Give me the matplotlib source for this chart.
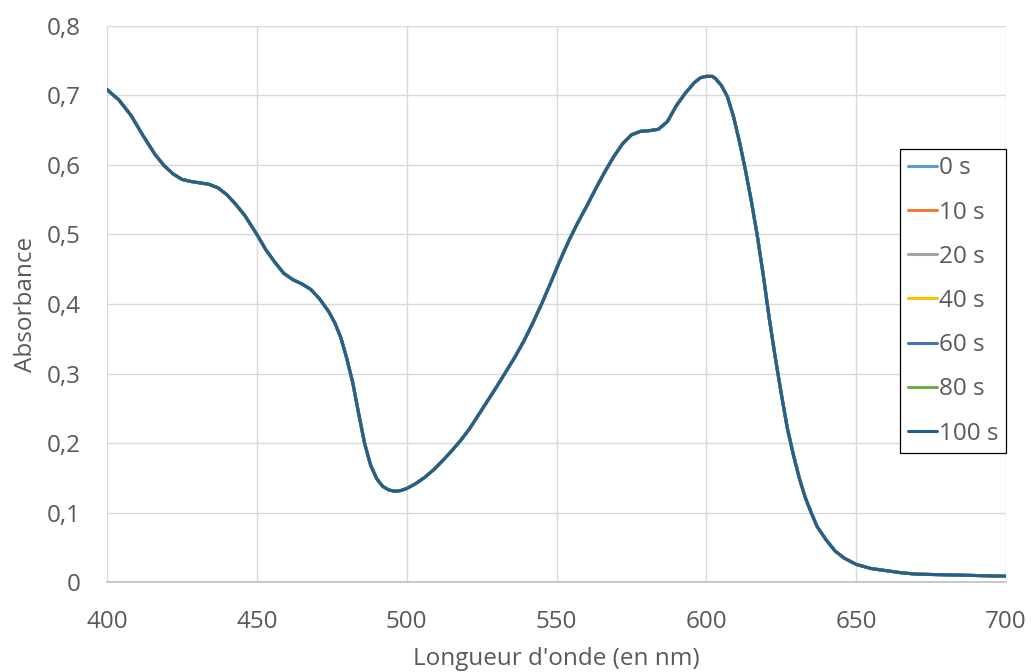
import matplotlib
matplotlib.use("Agg")
import matplotlib.pyplot as plt
from matplotlib.ticker import FuncFormatter, MultipleLocator

# Wavelengths (nm) and absorbance (all series overlap)
wavelength = [400, 404, 408, 412, 416, 419, 422, 425, 428, 431, 434, 437, 440, 443,
              446, 450, 453, 456, 459, 462, 465, 468, 471, 474, 476, 478, 480, 482,
              484, 486, 488, 490, 492, 494, 496, 498, 500, 503, 506, 509, 512, 515,
              518, 521, 524, 527, 530, 533, 536, 539, 542, 545, 548, 551, 554, 557,
              560, 563, 566, 569, 572, 575, 578, 581, 584, 587, 590, 593, 596, 598,
              600, 602, 603, 605, 607, 609, 611, 613, 615, 617, 619, 621, 623, 625,
              627, 629, 631, 633, 635, 637, 640, 643, 646, 650, 655, 660, 665, 670,
              680, 690, 700]

absorbance = [0.708, 0.693, 0.671, 0.642, 0.615, 0.599, 0.587, 0.579, 0.576, 0.574,
              0.572, 0.567, 0.557, 0.543, 0.527, 0.500, 0.478, 0.460, 0.444, 0.435,
              0.429, 0.421, 0.407, 0.389, 0.373, 0.352, 0.322, 0.287, 0.242, 0.199,
              0.168, 0.149, 0.138, 0.133, 0.131, 0.132, 0.135, 0.142, 0.151, 0.162,
              0.175, 0.189, 0.204, 0.221, 0.241, 0.261, 0.281, 0.302, 0.323, 0.346,
              0.372, 0.400, 0.430, 0.461, 0.490, 0.516, 0.540, 0.565, 0.589, 0.611,
              0.630, 0.643, 0.648, 0.649, 0.651, 0.662, 0.685, 0.703, 0.718, 0.725,
              0.727, 0.727, 0.724, 0.714, 0.698, 0.670, 0.634, 0.593, 0.548, 0.498,
              0.441, 0.379, 0.323, 0.271, 0.222, 0.184, 0.150, 0.122, 0.100, 0.080,
              0.061, 0.045, 0.035, 0.026, 0.020, 0.017, 0.014, 0.012, 0.011, 0.010,
              0.009]

series_labels = ["0 s", "10 s", "20 s", "40 s", "60 s", "80 s", "100 s"]
series_values = {
    "0 s": absorbance,
    "10 s": absorbance,
    "20 s": absorbance,
    "40 s": absorbance,
    "60 s": absorbance,
    "80 s": absorbance,
    "100 s": absorbance,
}
series_colors = ["#5B9BD5", "#ED7D31", "#A5A5A5", "#FFC000", "#4472C4", "#70AD47", "#255E91"]

x_ticks = [400, 450, 500, 550, 600, 650, 700]

plt.rcParams['font.family'] = ['Open Sans', 'DejaVu Sans']
text_color = "#595959"

fig = plt.figure(figsize=(10.31, 6.72), dpi=100)
ax = fig.add_axes([0.1038, 0.1332, 0.8720, 0.8288])

for label, color in zip(series_labels, series_colors):
    ax.plot(wavelength, series_values[label], color=color, lw=2.2, label=label,
            solid_capstyle='round', solid_joinstyle='round')

ax.set_xlim(400, 700)
ax.set_ylim(0, 0.8)
ax.set_xticks(x_ticks)
ax.yaxis.set_major_locator(MultipleLocator(0.1))
ax.yaxis.set_major_formatter(FuncFormatter(
    lambda v, p: "0" if abs(v) < 1e-9 else f"{v:.1f}".replace(".", ",")))

ax.grid(True, color="#D9D9D9", lw=1.0)
ax.set_axisbelow(True)
for s in ["top", "right", "left"]:
    ax.spines[s].set_visible(False)
ax.spines["bottom"].set_color("#BFBFBF")
ax.spines["bottom"].set_linewidth(1.2)
ax.tick_params(axis="both", length=0, labelsize=17.5, colors=text_color)
ax.tick_params(axis="y", pad=19)
ax.tick_params(axis="x", pad=20)

ax.set_xlabel("Longueur d'onde (en nm)", fontsize=17.5, color=text_color, labelpad=9)
ax.set_ylabel("Absorbance", fontsize=17.5, color=text_color, labelpad=6)

leg = ax.legend(loc="upper right", bbox_to_anchor=(1.0, 0.778), borderaxespad=0,
                fontsize=17.5, frameon=True, fancybox=False, framealpha=1,
                edgecolor="#000000", handlelength=1.2, handletextpad=0.1,
                labelspacing=0.83, borderpad=0.3)
leg.get_frame().set_linewidth(0.9)
for t in leg.get_texts():
    t.set_color(text_color)

fig.savefig("out.png", dpi=100, facecolor="white")
